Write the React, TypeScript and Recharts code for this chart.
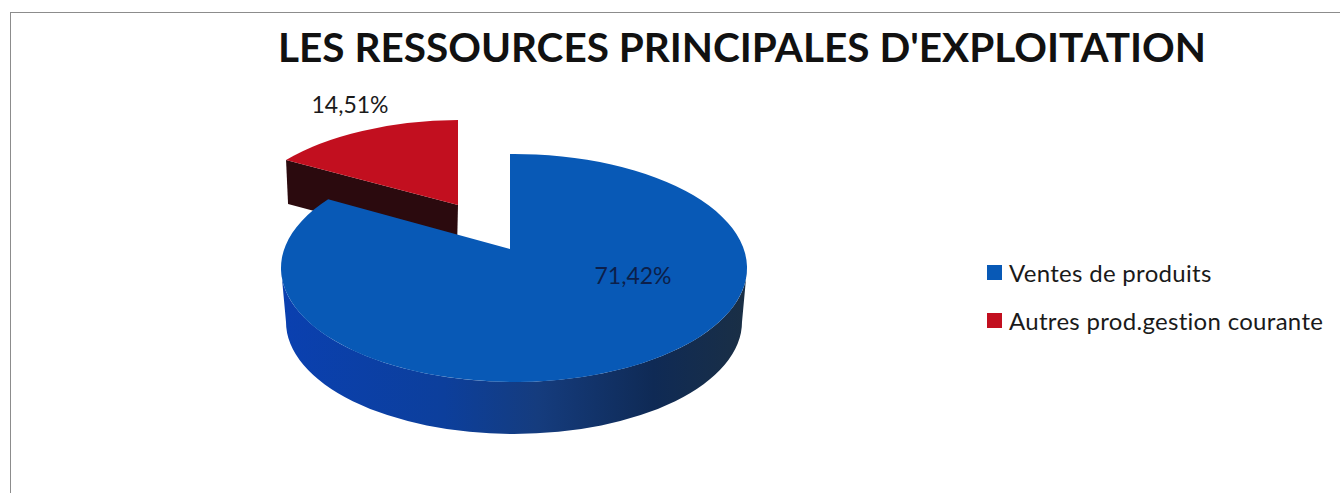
import { PieChart, Pie, Cell, Legend } from "recharts";

const categories = ["Autres prod.gestion courante", "Ventes de produits"];
const values = [14.51, 71.42];
const colors = ["#c20f1f", "#0859b6"];
const legendOrder = ["Ventes de produits", "Autres prod.gestion courante"];

const chartData = categories.map((name, i) => ({ name, value: values[i] }));

// fake 3D: each slice has its own flattened ellipse, apex sits off-centre for the perspective
const sliceLook = [
  { dx: -53, dy: -44, scale: 0.953, flat: 0.468, apexX: -3, apexY: -19, depth: 44 },
  { dx: 0, dy: 0, scale: 1, flat: 0.489, apexX: -4, apexY: -19, depth: 54 },
];
const labelSpots = [
  { x: 350, y: 107 },
  { x: 633, y: 278 },
];

function rimPoint(angle: number, rx: number, ry: number, ax: number, ay: number) {
  const rad = (angle * Math.PI) / 180;
  const p = Math.cos(rad);
  const q = -Math.sin(rad);
  const u = ax / rx;
  const v = ay / ry;
  const b = u * p + v * q;
  const t = -b + Math.sqrt(b * b - (u * u + v * v - 1));
  return { x: rx * (u + t * p), y: ry * (v + t * q) };
}

function Slice3D(props: any) {
  const { cx, cy, outerRadius, startAngle, endAngle, fill, index } = props;
  const look = sliceLook[index];
  const ox = cx + look.dx;
  const oy = cy + look.dy;
  const rx = outerRadius * look.scale;
  const ry = rx * look.flat;
  const from = rimPoint(startAngle, rx, ry, look.apexX, look.apexY);
  const to = rimPoint(endAngle, rx, ry, look.apexX, look.apexY);
  const large = Math.abs(endAngle - startAngle) > 180 ? 1 : 0;
  const apex = { x: ox + look.apexX, y: oy + look.apexY };
  const top = `M${apex.x},${apex.y} L${ox + from.x},${oy + from.y} A${rx},${ry} 0 ${large} 0 ${ox + to.x},${oy + to.y} Z`;

  if (index === 0) {
    // red slice: only the cut face towards the viewer shows
    const rimX = ox + to.x;
    const rimY = oy + to.y;
    const wall = `M${rimX},${rimY} L${apex.x},${apex.y} L${apex.x - 1},${apex.y + look.depth} L${rimX + 2},${rimY + look.depth} Z`;
    return (
      <g>
        <path d={wall} fill="#2b0a0e" />
        <path d={top} fill={fill} />
      </g>
    );
  }

  const lowRx = rx - 5;
  const lowRy = ry - 2;
  const wall = `M${ox - rx},${oy} A${rx},${ry} 0 0 0 ${ox + rx},${oy} L${ox + lowRx},${oy + look.depth} A${lowRx},${lowRy} 0 0 1 ${ox - lowRx},${oy + look.depth} Z`;
  return (
    <g>
      <defs>
        <linearGradient id="wallShade" x1="0" y1="0" x2="1" y2="0">
          <stop offset="0" stopColor="#0a40b0" />
          <stop offset="0.35" stopColor="#0c3f9c" />
          <stop offset="0.55" stopColor="#153c7e" />
          <stop offset="0.8" stopColor="#0f2a55" />
          <stop offset="1" stopColor="#1a2f45" />
        </linearGradient>
      </defs>
      <path d={wall} fill="url(#wallShade)" />
      <path d={top} fill={fill} />
    </g>
  );
}

function sliceLabel(props: any) {
  const spot = labelSpots[props.index];
  const text = props.value.toFixed(2).replace(".", ",") + "%";
  return (
    <text
      x={spot.x}
      y={spot.y}
      textAnchor="middle"
      dominantBaseline="middle"
      fontFamily="Lato"
      fontSize={23}
      fill={props.index === 0 ? "#1a1a1a" : "#0c1f4a"}
    >
      {text}
    </text>
  );
}

function LegendBox() {
  return (
    <div style={{ fontFamily: "Lato", fontSize: 24, color: "#1a1a1a", letterSpacing: 0.3 }}>
      {legendOrder.map((name) => (
        <div key={name} style={{ display: "flex", alignItems: "center", height: 48 }}>
          <span
            style={{
              display: "inline-block",
              width: 15,
              height: 15,
              marginRight: 7,
              background: colors[categories.indexOf(name)],
            }}
          />
          {name}
        </div>
      ))}
    </div>
  );
}

export default function App() {
  return (
    <div style={{ position: "absolute", left: 0, top: 0, width: 1340, height: 493, overflow: "hidden", background: "#fff" }}>
      <div
        style={{
          position: "absolute",
          left: 10,
          top: 12,
          width: 1340,
          height: 493,
          borderTop: "1px solid #8c8c8c",
          borderLeft: "1px solid #8c8c8c",
        }}
      />
      <PieChart
        width={1340}
        height={493}
        margin={{ top: 0, right: 0, bottom: 0, left: 0 }}
        style={{ position: "absolute", left: 0, top: 0 }}
      >
        <text
          x={742}
          y={52}
          textAnchor="middle"
          dominantBaseline="middle"
          fontFamily="Lato"
          fontWeight={700}
          fontSize={40.5}
          fill="#111"
        >
          LES RESSOURCES PRINCIPALES D'EXPLOITATION
        </text>
        <Pie
          data={chartData}
          dataKey="value"
          nameKey="name"
          cx={514}
          cy={268}
          outerRadius={233}
          startAngle={90}
          endAngle={450}
          paddingAngle={0}
          stroke="none"
          shape={Slice3D}
          label={sliceLabel}
          labelLine={false}
          isAnimationActive={false}
        >
          {chartData.map((d, i) => (
            <Cell key={d.name} fill={colors[i]} />
          ))}
        </Pie>
        <Legend
          layout="vertical"
          content={<LegendBox />}
          wrapperStyle={{ left: 987, top: 248, width: 350, bottom: "auto" }}
        />
      </PieChart>
    </div>
  );
}
